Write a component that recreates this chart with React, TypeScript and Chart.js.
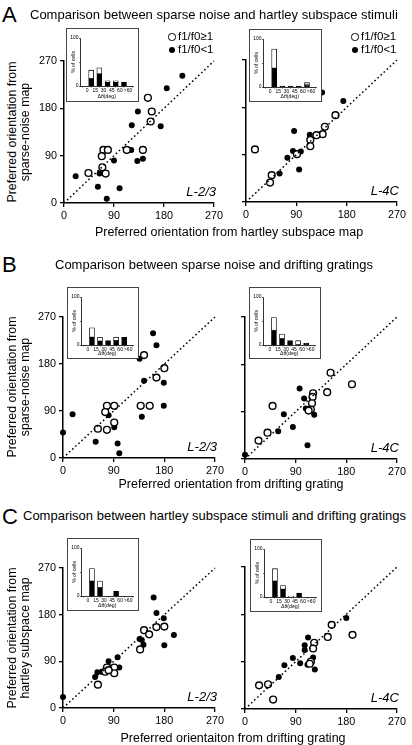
import React, { useEffect, useRef } from 'react';
import { Chart, registerables } from 'chart.js';
Chart.register(...registerables);

const FONT = '"Liberation Sans", Arial, Helvetica, sans-serif';
Chart.defaults.font.family = FONT;

type P = [number, number];

// ---- scatter data (preferred orientation, deg) ----
const aLeftFilled: P[] = [[213,242],[185,218],[133,174],[122,148],[174,146],[121,101],[90,81],[132,80],[142,84],[64,56],[21,51],[61,31],[100,28],[77,8]];
const aLeftOpen: P[] = [[151,200],[158,174],[156,155],[71,101],[79,101],[68,89],[113,101],[142,101],[69,68],[44,57],[75,56]];
const aRightFilled: P[] = [[136,208],[174,192],[86,135],[114,128],[84,97],[98,96],[74,84],[60,54],[95,62]];
const aRightOpen: P[] = [[16,100],[160,165],[141,143],[137,129],[126,127],[115,118],[115,106],[91,91],[46,51],[43,37]];
const bLeftFilled: P[] = [[160,239],[166,216],[136,190],[144,148],[179,144],[179,100],[140,79],[17,84],[81,82],[91,59],[0,49],[58,31],[97,28],[100,9]];
const bLeftOpen: P[] = [[144,197],[180,172],[166,154],[138,100],[154,100],[78,100],[91,100],[75,88],[91,68],[62,56],[78,54]];
const bRightFilled: P[] = [[97,134],[105,115],[108,96],[123,84],[69,85],[85,61],[59,53],[111,26],[0,8]];
const bRightOpen: P[] = [[152,164],[190,142],[146,127],[121,125],[120,118],[119,106],[117,94],[113,92],[49,101],[40,50],[24,35]];
const cLeftFilled: P[] = [[161,213],[166,183],[179,173],[197,141],[136,133],[140,131],[143,122],[180,121],[97,98],[81,90],[100,78],[61,69],[57,60],[69,70],[0,21]];
const cLeftOpen: P[] = [[144,150],[153,142],[166,156],[180,157],[137,113],[78,78],[91,78],[75,70],[91,67],[62,45],[81,73]];
const cRightFilled: P[] = [[180,173],[112,136],[106,121],[106,112],[121,98],[85,97],[98,87],[111,84],[70,83],[124,75],[60,61]];
const cRightOpen: P[] = [[154,160],[191,141],[147,137],[123,126],[121,115],[117,90],[115,86],[41,47],[25,45],[50,18]];

const mainTicks = [0, 90, 180, 270];
const diagonal: P[] = [[0, 0], [270, 270]];

// ---- inset histograms (% of cells per delta-theta bin) ----
const histBins = [7.5, 22.5, 37.5, 52.5, 67.5];
const histTickValues = [0, 15, 30, 45, 60, 75];
const histTickLabels = ['0', '15', '30', '45', '60', '>60'];
const aLeftHistFilled = [15, 25, 8, 8, 8];
const aLeftHistOpen = [18, 13, 3, 3, 0];
const aRightHistFilled = [39, 2, 2, 2, 4];
const aRightHistOpen = [40, 0, 0, 0, 5];
const bLeftHistFilled = [16, 8, 9, 9, 16];
const bLeftHistOpen = [20, 8, 0, 7, 0];
const bRightHistFilled = [30, 13, 9, 0, 4];
const bRightHistOpen = [27, 10, 0, 9, 0];
const cLeftHistFilled = [31, 17, 0, 10, 0];
const cLeftHistOpen = [26, 14, 0, 0, 0];
const cRightHistFilled = [33, 16, 0, 8, 0];
const cRightHistOpen = [26, 8, 2, 0, 0];

const toXY = (a: P[]) => a.map(([x, y]) => ({ x, y }));

interface ScatterProps { x0: number; x1: number; yT: number; yB: number; open: P[]; filled: P[]; yLabels: boolean; }

function Scatter({ x0, x1, yT, yB, open, filled, yLabels }: ScatterProps) {
  const ref = useRef<HTMLCanvasElement>(null);
  const PL = yLabels ? 44 : 12, PR = 12, PT = 10, PB = 24;
  const W = PL + (x1 - x0) + PR;
  const H = PT + (yB - yT) + PB;
  useEffect(() => {
    const axis = (isX: boolean, showLabels: boolean) => ({
      type: 'linear' as const,
      min: 0,
      max: 270,
      afterBuildTicks: (s: any) => { s.ticks = mainTicks.map((v) => ({ value: v })); },
      afterFit: (s: any) => { if (isX) s.height = PB; else s.width = PL; },
      ticks: {
        color: '#000',
        font: { size: 10.8, family: FONT },
        padding: isX ? 3 : 3,
        maxRotation: 0,
        autoSkip: false,
        callback: (v: any) => (showLabels ? String(v) : ''),
      },
      grid: { drawOnChartArea: false, drawTicks: true, tickLength: 4, color: '#000', lineWidth: 1.3 },
      border: { display: true, color: '#000', width: 1.5 },
    });
    const chart = new Chart(ref.current!, {
      type: 'scatter',
      data: {
        datasets: [
          {
            data: toXY(diagonal),
            showLine: true,
            borderColor: '#000',
            borderWidth: 1.5,
            borderDash: [1.6, 2.6],
            pointRadius: 0,
            fill: false,
            clip: false as any,
          } as any,
          {
            data: toXY(open),
            pointRadius: 3.4,
            pointBackgroundColor: '#fff',
            pointBorderColor: '#000',
            pointBorderWidth: 1.4,
            clip: false as any,
          },
          {
            data: toXY(filled),
            pointRadius: 3,
            pointBackgroundColor: '#000',
            pointBorderColor: '#000',
            pointBorderWidth: 0,
            clip: false as any,
          },
        ],
      },
      options: {
        animation: false,
        responsive: false,
        devicePixelRatio: 1,
        events: [],
        layout: { padding: { top: PT, right: PR, left: 0, bottom: 0 } },
        plugins: { legend: { display: false }, tooltip: { enabled: false } },
        scales: { x: axis(true, true) as any, y: axis(false, yLabels) as any },
      },
    });
    return () => chart.destroy();
  }, []);
  return (
    <canvas
      ref={ref}
      width={W}
      height={H}
      style={{ position: 'absolute', left: x0 - PL, top: yT - PT, width: W, height: H }}
    />
  );
}

interface InsetProps { left: number; top: number; w: number; h: number; filled: number[]; open: number[]; }

function Inset({ left, top, w, h, filled, open }: InsetProps) {
  const ref = useRef<HTMLCanvasElement>(null);
  const iw = w - 2, ih = h - 2;
  const AXL = 13.5, TOP = 9, XB = ih - 57, RIGHT = 5;
  useEffect(() => {
    const chart = new Chart(ref.current!, {
      type: 'bar',
      data: {
        datasets: [
          {
            data: histBins.map((x, i) => ({ x, y: filled[i] })),
            backgroundColor: '#000',
            borderColor: '#000',
            borderWidth: 0.8,
            barThickness: 5,
            borderSkipped: false,
          } as any,
          {
            data: histBins.map((x, i) => ({ x, y: open[i] })),
            backgroundColor: '#fff',
            borderColor: '#000',
            borderWidth: 0.8,
            barThickness: 5,
            borderSkipped: false,
          } as any,
        ],
      },
      options: {
        animation: false,
        responsive: false,
        devicePixelRatio: 1,
        events: [],
        layout: { padding: { top: TOP, right: RIGHT, left: 0, bottom: 0 } },
        plugins: { legend: { display: false }, tooltip: { enabled: false } },
        scales: {
          x: {
            type: 'linear',
            min: -4,
            max: 76,
            stacked: true,
            afterBuildTicks: (s: any) => { s.ticks = histTickValues.map((v) => ({ value: v })); },
            afterFit: (s: any) => { s.height = XB; },
            ticks: {
              color: '#000',
              font: { size: 5, family: FONT },
              padding: 0.5,
              maxRotation: 0,
              autoSkip: false,
              callback: (_v: any, i: number) => histTickLabels[i],
            },
            grid: { drawOnChartArea: false, drawTicks: true, tickLength: 1.5, color: '#000', lineWidth: 0.6 },
            border: { display: true, color: '#000', width: 0.8 },
            title: { display: true, text: 'Δθ(deg)', color: '#000', font: { size: 5.2, family: FONT }, padding: { top: 0, bottom: 1 } },
          } as any,
          y: {
            type: 'linear',
            min: 0,
            max: 100,
            stacked: true,
            afterBuildTicks: (s: any) => { s.ticks = [0, 50, 100].map((v) => ({ value: v })); },
            afterFit: (s: any) => { s.width = AXL; },
            ticks: {
              color: '#000',
              font: { size: 5, family: FONT },
              padding: 0.5,
              autoSkip: false,
              callback: (v: any) => (v === 50 ? '' : String(v)),
            },
            grid: { drawOnChartArea: false, drawTicks: true, tickLength: 1.5, color: '#000', lineWidth: 0.6 },
            border: { display: true, color: '#000', width: 0.8 },
            title: { display: true, text: '% of cells', color: '#000', font: { size: 5.2, family: FONT }, padding: { top: 3, bottom: 0 } },
          } as any,
        },
      },
    });
    return () => chart.destroy();
  }, []);
  return (
    <div
      style={{
        position: 'absolute', left, top, width: w, height: h, boxSizing: 'border-box',
        border: '1.2px solid #444', background: '#fff',
      }}
    >
      <canvas ref={ref} width={iw} height={ih} style={{ display: 'block', width: iw, height: ih }} />
    </div>
  );
}

interface TxtProps { x: number; y: number; s: number; children: React.ReactNode; anchor?: 'start' | 'middle' | 'end'; italic?: boolean; rot?: boolean; }

function Txt({ x, y, s, children, anchor = 'start', italic, rot }: TxtProps) {
  const tx = rot || anchor === 'middle' ? '-50%' : anchor === 'end' ? '-100%' : '0';
  return (
    <div
      style={{
        position: 'absolute', left: x, top: y, fontSize: s, lineHeight: 1, whiteSpace: 'nowrap',
        fontFamily: FONT, color: '#000', fontStyle: italic ? 'italic' : 'normal',
        transform: `translate(${tx}, -50%)${rot ? ' rotate(-90deg)' : ''}`,
      }}
    >
      {children}
    </div>
  );
}

const panels = [
  { key: 'aL', x0: 64, x1: 214, yT: 61, yB: 203, open: aLeftOpen, filled: aLeftFilled, yLabels: true, layer: 'L-2/3',
    inset: { left: 66, top: 28, w: 73, h: 74, filled: aLeftHistFilled, open: aLeftHistOpen } },
  { key: 'aR', x0: 246, x1: 397, yT: 60, yB: 202, open: aRightOpen, filled: aRightFilled, yLabels: false, layer: 'L-4C',
    inset: { left: 249, top: 29, w: 73, h: 73, filled: aRightHistFilled, open: aRightHistOpen } },
  { key: 'bL', x0: 63, x1: 215, yT: 317, yB: 458, open: bLeftOpen, filled: bLeftFilled, yLabels: true, layer: 'L-2/3',
    inset: { left: 67, top: 287, w: 72, h: 72, filled: bLeftHistFilled, open: bLeftHistOpen } },
  { key: 'bR', x0: 245, x1: 397, yT: 317, yB: 459, open: bRightOpen, filled: bRightFilled, yLabels: false, layer: 'L-4C',
    inset: { left: 249, top: 287, w: 72, h: 72, filled: bRightHistFilled, open: bRightHistOpen } },
  { key: 'cL', x0: 63, x1: 215, yT: 568, yB: 708, open: cLeftOpen, filled: cLeftFilled, yLabels: true, layer: 'L-2/3',
    inset: { left: 67, top: 538, w: 72, h: 73, filled: cLeftHistFilled, open: cLeftHistOpen } },
  { key: 'cR', x0: 245, x1: 397, yT: 567, yB: 709, open: cRightOpen, filled: cRightFilled, yLabels: false, layer: 'L-4C',
    inset: { left: 250, top: 539, w: 72, h: 73, filled: cRightHistFilled, open: cRightHistOpen } },
];

function Legend({ x, y }: { x: number; y: number }) {
  return (
    <>
      <div style={{ position: 'absolute', left: x - 3.6, top: y - 3.6, width: 7.2, height: 7.2, boxSizing: 'border-box', border: '1.4px solid #000', borderRadius: '50%', background: '#fff' }} />
      <Txt x={x + 6} y={y} s={11.5}>f1/f0≥1</Txt>
      <div style={{ position: 'absolute', left: x - 3, top: y + 13 - 3, width: 6, height: 6, borderRadius: '50%', background: '#000' }} />
      <Txt x={x + 6} y={y + 13} s={11.5}>f1/f0&lt;1</Txt>
    </>
  );
}

export default function App() {
  return (
    <div style={{ position: 'absolute', left: 0, top: 0, width: 412, height: 745, background: '#fff', overflow: 'hidden', fontFamily: FONT }}>
      {panels.map((p) => (
        <Scatter key={p.key} x0={p.x0} x1={p.x1} yT={p.yT} yB={p.yB} open={p.open} filled={p.filled} yLabels={p.yLabels} />
      ))}
      {panels.map((p) => (
        <Inset key={p.key + 'i'} {...p.inset} />
      ))}
      {panels.map((p) => (
        <Txt key={p.key + 'l'} x={p.x1 + 2} y={p.yB - 12} s={13} anchor="end" italic>{p.layer}</Txt>
      ))}

      <Legend x={172} y={37} />
      <Legend x={355} y={37} />

      <Txt x={2} y={15} s={22}>A</Txt>
      <Txt x={30} y={14} s={13}>Comparison between sparse noise and hartley subspace stimuli</Txt>
      <Txt x={2} y={265} s={22}>B</Txt>
      <Txt x={55} y={264} s={13}>Comparison between sparse noise and drifting gratings</Txt>
      <Txt x={2} y={517} s={22}>C</Txt>
      <Txt x={23} y={515} s={13}>Comparison between hartley subspace stimuli and drifting gratings</Txt>

      <Txt x={11.5} y={132} s={12.4} rot>Preferred orientation from</Txt>
      <Txt x={25} y={132} s={12.4} rot>sparse-noise map</Txt>
      <Txt x={11.5} y={387} s={12.4} rot>Preferred orientation from</Txt>
      <Txt x={25} y={387} s={12.4} rot>sparse-noise map</Txt>
      <Txt x={11.5} y={638} s={12.4} rot>Preferred orientation from</Txt>
      <Txt x={25} y={638} s={12.4} rot>hartley subspace map</Txt>

      <Txt x={229} y={232} s={12.5} anchor="middle">Preferred orientation from hartley subspace map</Txt>
      <Txt x={231} y={484} s={12.5} anchor="middle">Preferred orientation from drifting grating</Txt>
      <Txt x={233} y={738} s={12.5} anchor="middle">Preferred orientaiton from drifting grating</Txt>
    </div>
  );
}
